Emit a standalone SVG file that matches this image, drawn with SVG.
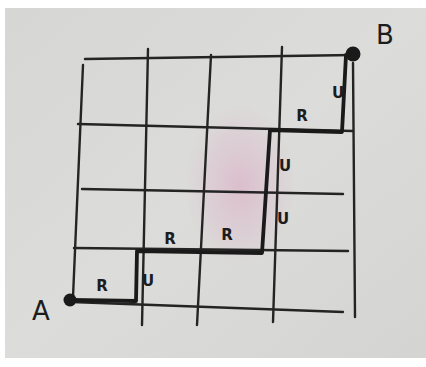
<svg xmlns="http://www.w3.org/2000/svg" width="426" height="367" viewBox="0 0 426 367">
<defs>
<radialGradient id="pink" cx="0.5" cy="0.5" r="0.5">
<stop offset="0" stop-color="#dcb4c8" stop-opacity="0.75"/>
<stop offset="0.6" stop-color="#dcb8cc" stop-opacity="0.35"/>
<stop offset="1" stop-color="#dcb8cc" stop-opacity="0"/>
</radialGradient>
<linearGradient id="bg" x1="0" y1="0" x2="1" y2="1">
<stop offset="0" stop-color="#d6d6d4"/>
<stop offset="0.5" stop-color="#dcdcda"/>
<stop offset="1" stop-color="#d4d4d2"/>
</linearGradient>
<style>
.g{stroke:#242424;stroke-width:2.4;fill:none;stroke-linecap:round}
.p{stroke:#1a1a1a;stroke-width:3.8;fill:none;stroke-linejoin:round;stroke-linecap:round}
.l{font-family:"DejaVu Sans",sans-serif;font-size:15px;font-weight:bold;fill:#1c1c1c;text-anchor:middle}
.big{font-family:"DejaVu Sans",sans-serif;font-size:26px;fill:#1c1c1c;text-anchor:middle}
</style>
</defs>
<rect width="426" height="367" fill="#ffffff"/>
<rect x="5" y="8" width="421" height="350" fill="url(#bg)"/>
<ellipse cx="240" cy="185" rx="55" ry="80" fill="url(#pink)"/>
<g id="grid">
<path class="g" d="M85 59 L353 55"/>
<path class="g" d="M78 124 L353 131"/>
<path class="g" d="M82 189 L343 194"/>
<path class="g" d="M74 248 L348 251"/>
<path class="g" d="M72 302 L343 312"/>
<path class="g" d="M83 65 L73 297"/>
<path class="g" d="M148 49 L142 325"/>
<path class="g" d="M211 55 L197 325"/>
<path class="g" d="M282 47 L273 322"/>
<path class="g" d="M353 63 L355 317"/>
</g>
<g id="connectors">
<path class="p" d="M71 300 L136 301 L137 251 L262 253 L270 130 L342 132 L346 55"/>
</g>
<g id="node-A">
<circle cx="70" cy="300" r="6.5" fill="#1a1a1a"/>
<text class="big" x="41" y="320">A</text>
</g>
<g id="node-B">
<circle cx="353" cy="54" r="7.5" fill="#1a1a1a"/>
<text class="big" x="385" y="44">B</text>
</g>
<g id="labels">
<text class="l" x="102" y="291">R</text>
<text class="l" x="170" y="244">R</text>
<text class="l" x="227" y="240">R</text>
<text class="l" x="302" y="121">R</text>
<text class="l" x="148" y="286">U</text>
<text class="l" x="283" y="224">U</text>
<text class="l" x="285" y="171">U</text>
<text class="l" x="338" y="98">U</text>
</g>
</svg>
